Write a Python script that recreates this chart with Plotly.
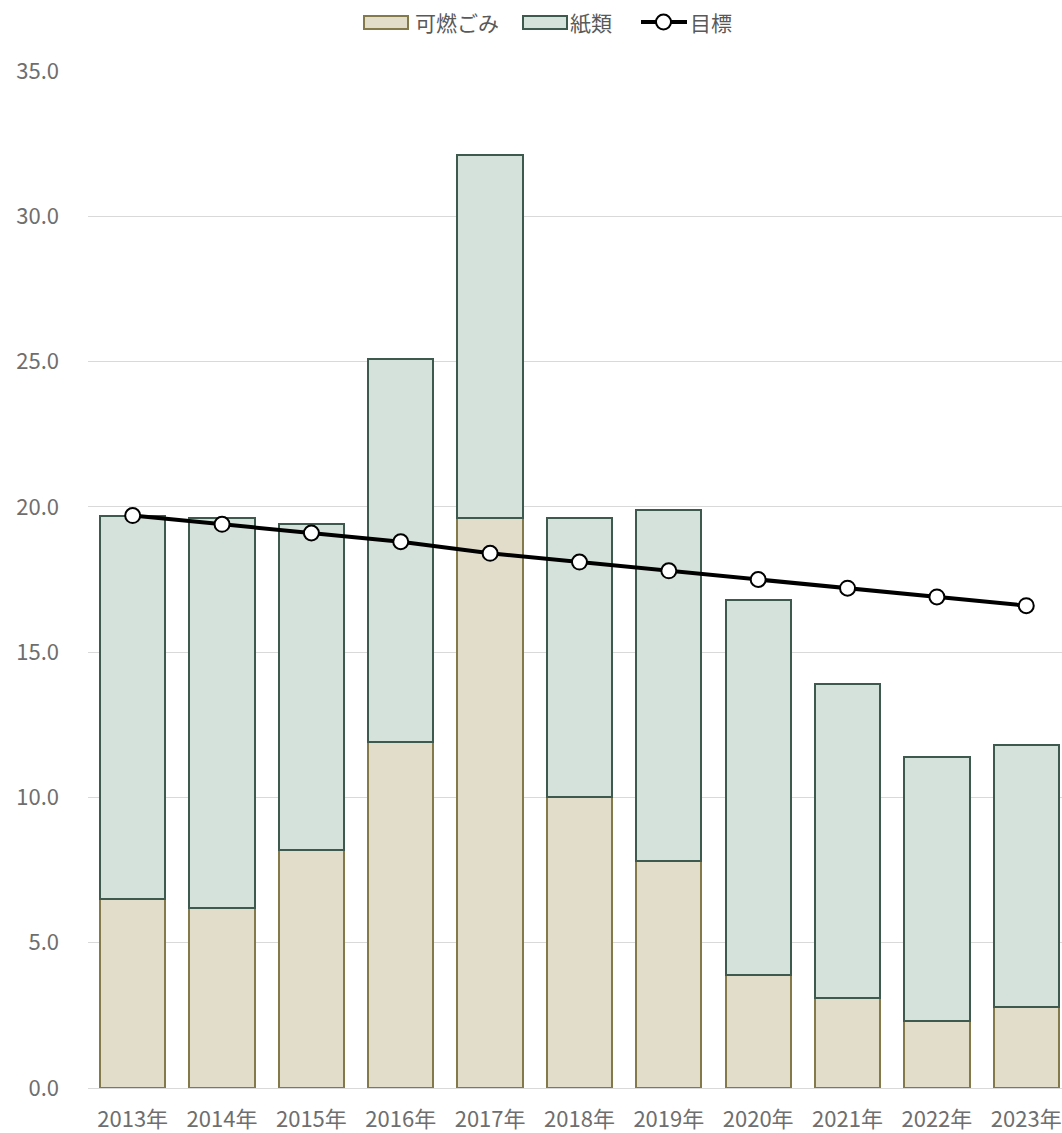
import plotly.graph_objects as go

years = ["2013年", "2014年", "2015年", "2016年", "2017年", "2018年", "2019年", "2020年", "2021年", "2022年", "2023年"]
combustible = [6.5, 6.2, 8.2, 11.9, 19.6, 10.0, 7.8, 3.9, 3.1, 2.3, 2.8]
totals = [19.7, 19.6, 19.4, 25.1, 32.1, 19.6, 19.9, 16.8, 13.9, 11.4, 11.8]
paper = [round(t - c, 1) for t, c in zip(totals, combustible)]
target = [19.7, 19.4, 19.1, 18.8, 18.4, 18.1, 17.8, 17.5, 17.2, 16.9, 16.6]
series_names = ["可燃ごみ", "紙類", "目標"]
ytick_vals = [0, 5, 10, 15, 20, 25, 30, 35]

W, H = 1062, 1133
L, R, T, B = 88, 0, 71, 45
PW, PH = W - L - R, H - T - B

TAN_FILL, TAN_LINE = "#E2DDCB", "#84794A"
GRN_FILL, GRN_LINE = "#D5E2DB", "#3E5A4F"
FONT = "Noto Sans CJK JP"
GRAY = "#6E6E6E"
LGRAY = "#595959"


def px_x(p):
    return (p - L) / PW


def px_y(p):
    return (H - B - p) / PH


fig = go.Figure()
fig.add_trace(go.Bar(x=years, y=combustible, name=series_names[0],
                     marker=dict(color=TAN_FILL, line=dict(color=TAN_LINE, width=2))))
fig.add_trace(go.Bar(x=years, y=paper, name=series_names[1],
                     marker=dict(color=GRN_FILL, line=dict(color=GRN_LINE, width=2))))
fig.add_trace(go.Scatter(x=years, y=target, name=series_names[2], mode="lines+markers",
                         line=dict(color="black", width=4),
                         marker=dict(size=15, color="white", line=dict(color="black", width=2))))

# custom legend (wide rectangles like the original)
ly = 22
shapes = [
    dict(type="rect", xref="paper", yref="paper", x0=px_x(364), x1=px_x(408), y0=px_y(29), y1=px_y(16),
         fillcolor=TAN_FILL, line=dict(color=TAN_LINE, width=2)),
    dict(type="rect", xref="paper", yref="paper", x0=px_x(523), x1=px_x(567), y0=px_y(29), y1=px_y(16),
         fillcolor=GRN_FILL, line=dict(color=GRN_LINE, width=2)),
    dict(type="line", xref="paper", yref="paper", x0=px_x(641), x1=px_x(687), y0=px_y(ly), y1=px_y(ly),
         line=dict(color="black", width=4)),
    dict(type="circle", xref="paper", yref="paper", x0=px_x(656), x1=px_x(671), y0=px_y(29.5), y1=px_y(14.5),
         fillcolor="white", line=dict(color="black", width=2)),
]
annotations = [
    dict(text=series_names[0], x=px_x(413), y=px_y(ly), xref="paper", yref="paper", xanchor="left",
         yanchor="middle", showarrow=False, font=dict(family=FONT, size=21, color=LGRAY)),
    dict(text=series_names[1], x=px_x(568), y=px_y(ly), xref="paper", yref="paper", xanchor="left",
         yanchor="middle", showarrow=False, font=dict(family=FONT, size=21, color=LGRAY)),
    dict(text=series_names[2], x=px_x(688), y=px_y(ly), xref="paper", yref="paper", xanchor="left",
         yanchor="middle", showarrow=False, font=dict(family=FONT, size=21, color=LGRAY)),
]

fig.update_layout(
    width=W, height=H,
    margin=dict(l=L, r=R, t=T, b=B),
    paper_bgcolor="white", plot_bgcolor="white",
    barmode="stack", bargap=0.27,
    showlegend=False,
    shapes=shapes, annotations=annotations,
    font=dict(family=FONT, size=22, color=GRAY),
)
fig.update_xaxes(range=[-0.5, 10.4], showgrid=False, showline=True, linecolor="#D9D9D9", linewidth=1,
                 ticks="", ticklabelstandoff=12, tickfont=dict(family=FONT, size=22, color=GRAY))
fig.update_yaxes(range=[0, 35], tickvals=ytick_vals, tickformat=".1f", showgrid=True, gridcolor="#D9D9D9",
                 gridwidth=1, zeroline=False, ticks="", ticklabelstandoff=28,
                 tickfont=dict(family=FONT, size=22, color=GRAY))

fig.write_html("out.html")
